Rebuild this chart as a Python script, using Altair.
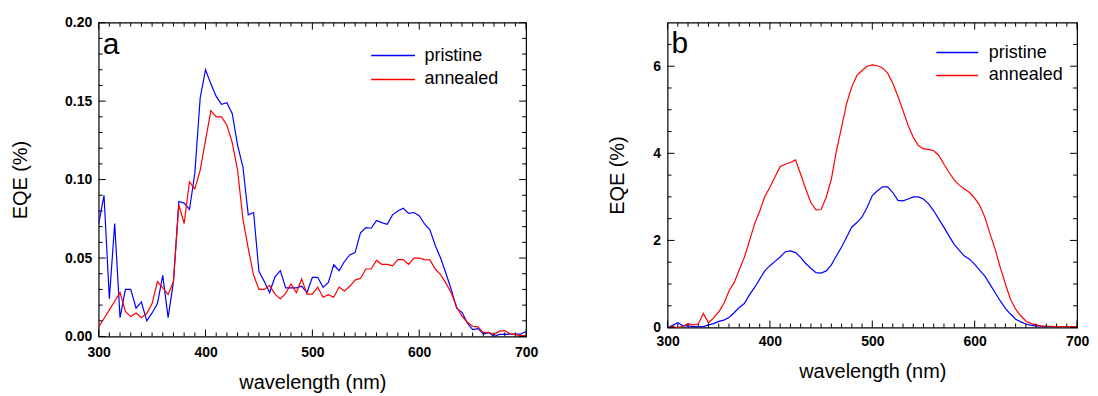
import altair as alt
import pandas as pd

FONT = "Liberation Sans"

# ---------------- data ----------------
wavelength = list(range(300, 705, 5))
series_names = ["pristine", "annealed"]
series_colors = ["#0000ff", "#ff0000"]

a_pristine = [0.072, 0.090, 0.024, 0.072, 0.012, 0.030, 0.030, 0.018, 0.022, 0.010,
              0.015, 0.021, 0.039, 0.012, 0.035, 0.086, 0.085, 0.081, 0.104, 0.152,
              0.170, 0.161, 0.153, 0.148, 0.149, 0.142, 0.122, 0.108, 0.0775, 0.079,
              0.0415, 0.035, 0.028, 0.038, 0.042, 0.031, 0.031, 0.031, 0.032, 0.028,
              0.0377, 0.0377, 0.0313, 0.0345, 0.0457, 0.0419, 0.0478, 0.052, 0.0535, 0.066,
              0.0694, 0.069, 0.0739, 0.0726, 0.0715, 0.0775, 0.080, 0.0817, 0.0785, 0.079,
              0.077, 0.0717, 0.068, 0.058, 0.050, 0.0403, 0.0298, 0.018, 0.0154, 0.0087,
              0.0044, 0.005, 0.0015, 0.0025, 0.0, 0.0013, 0.0013, 0.0015, 0.0015, 0.0015,
              0.0032]
a_annealed = [0.006, 0.0115, 0.017, 0.0225, 0.028, 0.016, 0.0127, 0.015, 0.012, 0.0146,
              0.021, 0.035, 0.031, 0.0267, 0.035, 0.084, 0.072, 0.0986, 0.094, 0.106,
              0.125, 0.144, 0.140, 0.140, 0.1346, 0.1236, 0.106, 0.075, 0.056, 0.039,
              0.030, 0.030, 0.0326, 0.027, 0.024, 0.0275, 0.0335, 0.028, 0.0366, 0.027,
              0.027, 0.0315, 0.025, 0.0267, 0.025, 0.0315, 0.029, 0.032, 0.036, 0.037,
              0.043, 0.043, 0.0485, 0.046, 0.046, 0.045, 0.049, 0.049, 0.046, 0.050,
              0.050, 0.049, 0.0488, 0.043, 0.0394, 0.034, 0.0277, 0.019, 0.0129, 0.0091,
              0.0065, 0.0061, 0.0025, 0.0027, 0.0013, 0.0034, 0.0038, 0.0017, 0.0012, 0.0005,
              0.0005]

b_pristine = [0.0, 0.05, 0.11, 0.04, 0.04, 0.02, 0.02, 0.02, 0.06, 0.09,
              0.14, 0.17, 0.23, 0.34, 0.46, 0.55, 0.75, 0.92, 1.11, 1.30,
              1.42, 1.52, 1.62, 1.74, 1.76, 1.72, 1.61, 1.47, 1.36, 1.26,
              1.25, 1.30, 1.44, 1.65, 1.85, 2.08, 2.31, 2.41, 2.54, 2.76,
              3.03, 3.14, 3.23, 3.23, 3.10, 2.92, 2.91, 2.95, 3.00, 3.00,
              2.95, 2.84, 2.68, 2.49, 2.30, 2.10, 1.91, 1.77, 1.64, 1.57,
              1.45, 1.31, 1.18, 0.99, 0.80, 0.61, 0.44, 0.31, 0.19, 0.13,
              0.08, 0.05, 0.04, 0.03, 0.02, 0.02, 0.02, 0.02, 0.02, 0.02,
              0.02]
b_annealed = [0.0, 0.02, 0.0, 0.03, 0.09, 0.06, 0.08, 0.32, 0.11, 0.22,
              0.36, 0.55, 0.84, 1.03, 1.32, 1.61, 1.99, 2.38, 2.67, 3.01,
              3.22, 3.46, 3.70, 3.75, 3.79, 3.85, 3.52, 3.18, 2.87, 2.70,
              2.71, 2.99, 3.41, 4.06, 4.60, 5.15, 5.53, 5.79, 5.90, 6.00,
              6.03, 6.01, 5.96, 5.84, 5.61, 5.31, 4.98, 4.64, 4.37, 4.18,
              4.10, 4.09, 4.06, 3.95, 3.75, 3.56, 3.39, 3.27, 3.18, 3.10,
              2.97, 2.80, 2.53, 2.15, 1.80, 1.38, 1.00, 0.65, 0.42, 0.27,
              0.15, 0.09, 0.06, 0.04, 0.03, 0.03, 0.02, 0.02, 0.02, 0.02,
              0.02]

x_major = [300, 400, 500, 600, 700]
x_minor = [v for v in range(310, 700, 10) if v % 100 != 0]
a_y_major = [0.0, 0.05, 0.10, 0.15, 0.20]
a_y_minor = [i / 100 for i in range(1, 20) if i % 5 != 0]
b_y_labels = [0, 2, 4, 6]
b_y_major = [0, 2, 4, 6]
b_y_minor = [i / 2 for i in range(1, 14) if i % 4 != 0]


def long_df(p, a):
    return pd.DataFrame({
        "wavelength": wavelength * 2,
        "EQE": p + a,
        "series": ["pristine"] * len(p) + ["annealed"] * len(a),
    })


def panel(df, W, H, ydom, ymaj, ymin, ylabels, yfmt, letter, letter_y,
          legx, legy, legsym, legoff, legrow, ytitle_x, xtitle_y, xlabpad):
    xs = alt.Scale(domain=[300, 700], nice=False, zero=False, padding=0)
    ys = alt.Scale(domain=ydom, nice=False, zero=False, padding=0)
    x_axis = alt.Axis(
        values=x_major, format="d", ticks=False, tickSize=0, domain=False, grid=False,
        labelFlush=False,
        labelFont=FONT, labelFontSize=14, labelFontWeight="bold", labelColor="black",
        labelPadding=xlabpad, title="wavelength (nm)", titleFont=FONT, titleFontSize=20,
        titleFontWeight="normal", titleColor="black", titleY=xtitle_y,
        titleBaseline="middle")
    y_axis = alt.Axis(
        values=ylabels, format=yfmt, ticks=False, tickSize=0, domain=False, grid=False,
        labelFlush=False,
        labelFont=FONT, labelFontSize=14, labelFontWeight="bold", labelColor="black",
        labelPadding=7, title="EQE (%)", titleFont=FONT, titleFontSize=20,
        titleFontWeight="normal", titleColor="black", titleX=ytitle_x,
        titleY=H / 2, titleBaseline="middle", titleAngle=-90)
    lines = alt.Chart(df).mark_line(strokeWidth=1.2, clip=True).encode(
        x=alt.X("wavelength:Q", scale=xs, axis=x_axis, title="wavelength (nm)"),
        y=alt.Y("EQE:Q", scale=ys, axis=y_axis, title="EQE (%)"),
        color=alt.Color("series:N", scale=alt.Scale(domain=series_names, range=series_colors),
                        legend=alt.Legend(orient="none", legendX=legx, legendY=legy, title=None,
                                          symbolType="M-4,0H4", symbolSize=legsym,
                                          symbolStrokeWidth=1.5, labelFont=FONT,
                                          labelFontSize=18, labelColor="black",
                                          labelOffset=legoff, rowPadding=legrow, padding=0)),
        order=alt.Order("wavelength:Q"),
    )
    layers = [lines]
    for vals, L in [(x_major, 7), (x_minor, 4)]:
        d = pd.DataFrame({"wavelength": vals})
        layers.append(alt.Chart(d).mark_rule(color="black", strokeWidth=1).encode(
            x=alt.X("wavelength:Q", scale=xs, axis=x_axis, title="wavelength (nm)"),
            y=alt.value(H), y2=alt.value(H - L)))
        layers.append(alt.Chart(d).mark_rule(color="black", strokeWidth=1).encode(
            x=alt.X("wavelength:Q", scale=xs, axis=x_axis, title="wavelength (nm)"),
            y=alt.value(0), y2=alt.value(L)))
    for vals, L in [(ymaj, 7), (ymin, 4)]:
        d = pd.DataFrame({"EQE": vals})
        layers.append(alt.Chart(d).mark_rule(color="black", strokeWidth=1).encode(
            y=alt.Y("EQE:Q", scale=ys, axis=y_axis, title="EQE (%)"),
            x=alt.value(0), x2=alt.value(L)))
        layers.append(alt.Chart(d).mark_rule(color="black", strokeWidth=1).encode(
            y=alt.Y("EQE:Q", scale=ys, axis=y_axis, title="EQE (%)"),
            x=alt.value(W), x2=alt.value(W - L)))
    layers.append(alt.Chart(pd.DataFrame({"t": [letter]})).mark_text(
        font=FONT, fontSize=30, align="left", baseline="alphabetic", color="black").encode(
        text="t:N", x=alt.value(4), y=alt.value(letter_y)))
    return alt.layer(*layers).properties(width=W, height=H)


chart_a = panel(long_df(a_pristine, a_annealed), 429, 315, [0, 0.2], a_y_major, a_y_minor,
                a_y_major, ".2f", "a", 31, 286.5, 24, 121, 22.5, 6, -78, 46, 9)
chart_b = panel(long_df(b_pristine, b_annealed), 411, 306, [0, 7], b_y_major, b_y_minor,
                b_y_labels, "d", "b", 30, 281.75, 21, 110.25, 22.75, 5, -50, 44, 7)

chart = alt.hconcat(chart_a, chart_b, spacing=68).resolve_scale(
    color="independent"
).properties(
    padding={"left": 2, "top": 6, "right": 0, "bottom": 0}
).configure_view(stroke="black", strokeWidth=1.2)

chart.save("out.html", embed_options={"renderer": "svg", "actions": False})
